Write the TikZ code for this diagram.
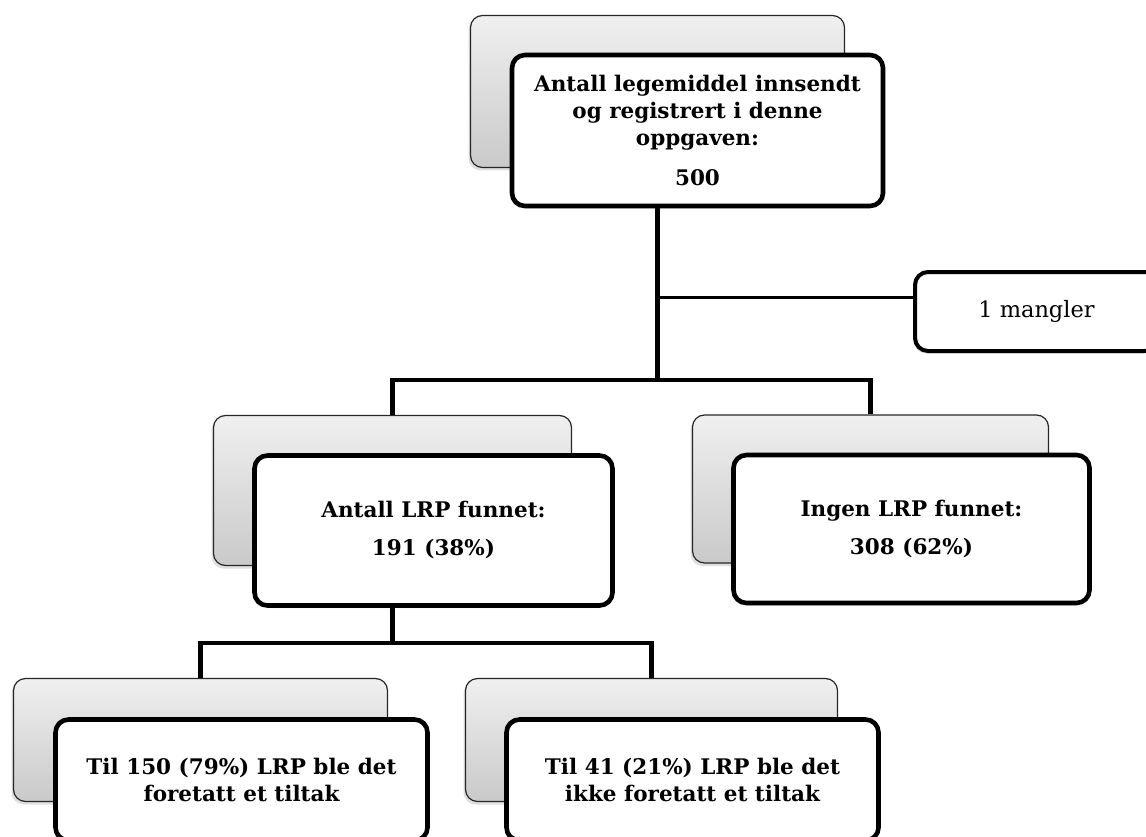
\documentclass[tikz,border=0pt]{standalone}
\usepackage{fontspec}
\setmainfont{DejaVu Serif}
\usetikzlibrary{shadows,backgrounds}

\begin{document}
\begin{tikzpicture}[x=1pt,y=-1pt,
    back/.style={draw=black!85,line width=1.2pt,rounded corners=12pt,
      top color=black!6,bottom color=black!21,inner sep=0pt,
      drop shadow={shadow xshift=-2pt,shadow yshift=-3pt,opacity=.25}},
    front/.style={draw,line width=4.6pt,rounded corners=13pt,fill=white,
      inner sep=0pt,align=center,
      font=\fontsize{21.5}{27}\selectfont\bfseries,
      drop shadow={shadow xshift=-1.5pt,shadow yshift=-2.5pt,opacity=.25}},
    link/.style={line width=4.8pt}]
  \useasboundingbox (0,0) rectangle (1146,837);
  \clip (0,0) rectangle (1146,837);

  % top level
  \node[back,minimum width=374pt,minimum height=152pt] (topback) at (657.5,91.5) {};
  \node[front,minimum width=371pt,minimum height=151pt] (top)
    at ([shift={(40,39)}]topback) {Antall legemiddel innsendt\\og registrert i denne\\oppgaven:\\[13pt]500};

  \node[front,line width=4pt,minimum width=243pt,minimum height=79pt,
        font=\fontsize{22.5}{27}\selectfont] (mangler) at (1036.5,311.5) {1 mangler};

  % second level
  \node[back,minimum width=358pt,minimum height=150pt] (lrpback) at (392.5,490.5) {};
  \node[front,minimum width=358pt,minimum height=150pt] (lrp)
    at ([shift={(41,40)}]lrpback) {Antall LRP funnet:\\[11pt]191 (38\%)};

  \node[back,minimum width=356pt,minimum height=148pt] (ingenback) at (870.5,489) {};
  \node[front,minimum width=356pt,minimum height=148pt] (ingen)
    at ([shift={(41,40)}]ingenback) {Ingen LRP funnet:\\[11pt]308 (62\%)};

  % third level
  \node[back,minimum width=374pt,minimum height=123pt] (tiltakback) at (200.5,740) {};
  \node[front,minimum width=372pt,minimum height=121pt] (tiltak)
    at ([shift={(41,40)}]tiltakback) {Til 150 (79\%) LRP ble det\\foretatt et tiltak};

  \node[back,minimum width=372pt,minimum height=123pt] (ikkeback) at (651.5,740) {};
  \node[front,minimum width=372pt,minimum height=121pt] (ikke)
    at ([shift={(41,40)}]ikkeback) {Til 41 (21\%) LRP ble det\\ikke foretatt et tiltak};

  \coordinate (split) at (0,380);
  \coordinate (lowsplit) at (0,643);
  \coordinate (side) at ([yshift=14pt]mangler.west);

  \begin{scope}[on background layer]
    \draw[link] (topback.south) |- (split -| lrpback.north) -- (lrpback.north);
    \draw[link] (topback.south) |- (split -| ingenback.north) -- (ingenback.north);
    \draw[link,line width=3.4pt] (topback.south |- side) -- (side);
    \draw[link] (lrpback.south) |- (lowsplit -| tiltakback.north) -- (tiltakback.north);
    \draw[link] (lrpback.south) |- (lowsplit -| ikkeback.north) -- (ikkeback.north);
  \end{scope}
\end{tikzpicture}
\end{document}
